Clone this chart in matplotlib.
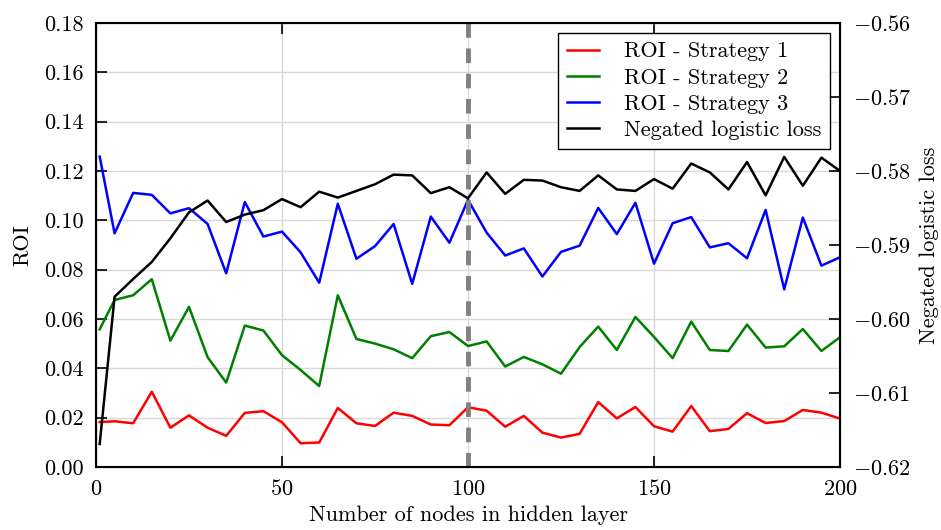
import matplotlib
matplotlib.use('Agg')
import matplotlib.pyplot as plt

# nodes in hidden layer
nodes = [1] + list(range(5, 201, 5))

roi_s1 = [0.0182, 0.0185, 0.0177, 0.0305, 0.0159, 0.0209, 0.0159, 0.0126, 0.0219, 0.0226,
          0.0181, 0.0096, 0.0099, 0.0239, 0.0177, 0.0166, 0.0220, 0.0207, 0.0172, 0.0169,
          0.0242, 0.0228, 0.0163, 0.0207, 0.0139, 0.0119, 0.0134, 0.0263, 0.0197, 0.0243,
          0.0165, 0.0143, 0.0247, 0.0145, 0.0154, 0.0218, 0.0178, 0.0186, 0.0231, 0.0220,
          0.0196]
roi_s2 = [0.0558, 0.0677, 0.0696, 0.0761, 0.0512, 0.0649, 0.0445, 0.0342, 0.0573, 0.0553,
          0.0453, 0.0393, 0.0328, 0.0696, 0.0519, 0.0500, 0.0477, 0.0441, 0.0530, 0.0547,
          0.0490, 0.0509, 0.0407, 0.0446, 0.0416, 0.0378, 0.0486, 0.0569, 0.0474, 0.0608,
          0.0527, 0.0441, 0.0589, 0.0474, 0.0470, 0.0577, 0.0484, 0.0489, 0.0559, 0.0470,
          0.0526]
roi_s3 = [0.1258, 0.0947, 0.1111, 0.1103, 0.1028, 0.1049, 0.0985, 0.0785, 0.1074, 0.0934,
          0.0954, 0.0870, 0.0747, 0.1067, 0.0844, 0.0895, 0.0985, 0.0742, 0.1015, 0.0909,
          0.1083, 0.0950, 0.0857, 0.0886, 0.0772, 0.0872, 0.0897, 0.1050, 0.0944, 0.1071,
          0.0824, 0.0988, 0.1013, 0.0890, 0.0907, 0.0846, 0.1042, 0.0720, 0.1011, 0.0816,
          0.0850]
neg_loss = [-0.6169, -0.5970, -0.5946, -0.5923, -0.5891, -0.5856, -0.5840, -0.5869, -0.5859, -0.5853,
            -0.5838, -0.5849, -0.5828, -0.5836, -0.5827, -0.5818, -0.5805, -0.5806, -0.5830, -0.5822,
            -0.5837, -0.5802, -0.5831, -0.5812, -0.5813, -0.5822, -0.5827, -0.5806, -0.5825, -0.5827,
            -0.5811, -0.5824, -0.5790, -0.5802, -0.5825, -0.5788, -0.5833, -0.5781, -0.5820, -0.5782,
            -0.5800]

best_nodes = 100

plt.rcParams['font.family'] = ['cmr10', 'DejaVu Serif']
plt.rcParams['mathtext.fontset'] = 'cm'
plt.rcParams['axes.formatter.use_mathtext'] = True
plt.rcParams['font.size'] = 16
plt.rcParams['xtick.direction'] = 'in'
plt.rcParams['ytick.direction'] = 'in'
plt.rcParams['xtick.major.size'] = 8
plt.rcParams['ytick.major.size'] = 8
plt.rcParams['xtick.major.pad'] = 9
plt.rcParams['ytick.major.pad'] = 9

fig = plt.figure(figsize=(9.41, 5.3), dpi=100)
ax = fig.add_axes([0.102, 0.119, 0.7907, 0.8377])
ax2 = ax.twinx()

l1, = ax.plot(nodes, roi_s1, color='red', lw=1.8, label='ROI - Strategy 1')
l2, = ax.plot(nodes, roi_s2, color='green', lw=1.8, label='ROI - Strategy 2')
l3, = ax.plot(nodes, roi_s3, color='blue', lw=1.8, label='ROI - Strategy 3')
l4, = ax2.plot(nodes, neg_loss, color='black', lw=1.8, label='Negated logistic loss')
ax.axvline(best_nodes, color='gray', lw=3.5, ls=(0, (3, 2.2)))

ax.set_xlim(0, 200)
ax.set_ylim(0, 0.18)
ax.set_yticks([0.0, 0.02, 0.04, 0.06, 0.08, 0.10, 0.12, 0.14, 0.16, 0.18])
ax.set_yticklabels(['%.2f' % v for v in ax.get_yticks()])
ax.set_xticks([0, 50, 100, 150, 200])
ax2.set_ylim(-0.62, -0.56)
ax2.set_yticks([-0.62, -0.61, -0.60, -0.59, -0.58, -0.57, -0.56])
ax2.set_yticklabels(['$-$%.2f' % abs(v) for v in ax2.get_yticks()])

ax.grid(True, color='#d9d9d9', lw=1)
ax.set_axisbelow(True)
ax.tick_params(top=True, width=1.2)
ax2.tick_params(width=1.2)
for sp in ax.spines.values():
    sp.set_linewidth(1.5)

ax.set_xlabel('Number of nodes in hidden layer', labelpad=4)
ax.set_ylabel('ROI', labelpad=8)
ax2.set_ylabel('Negated logistic loss', labelpad=6)

leg = ax2.legend(handles=[l1, l2, l3, l4], loc='upper right', fancybox=False,
                 edgecolor='black', framealpha=1, handlelength=1.45, handletextpad=1.1,
                 borderaxespad=0.45, labelspacing=0.3, borderpad=0.4)
leg.get_frame().set_linewidth(1.0)

fig.savefig('out.png', dpi=100)
